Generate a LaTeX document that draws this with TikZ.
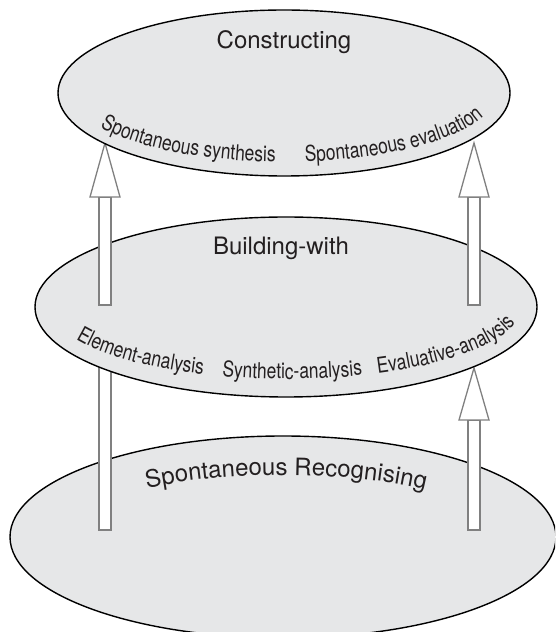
\documentclass[tikz,border=0pt]{standalone}
\usepackage{fontspec}
\setmainfont{TeX Gyre Heros}
\newfontfamily\lblfont[FakeStretch=0.8]{TeX Gyre Heros}
\usetikzlibrary{shapes.geometric,decorations.text,calc}
\definecolor{ellfill}{RGB}{230,231,232}
\definecolor{arrgray}{RGB}{128,128,128}
\definecolor{txt}{RGB}{35,31,32}
\newcommand\lblsize{\lblfont\fontsize{21.8}{26}\selectfont}
\newcommand\ttlsize{\fontsize{24}{28}\selectfont}
\newcommand\hollowarrow[3]{%
  \draw[hollow] ($(#1)+(-6,0)$) rectangle ($(#2)+(6,-#3)$);
  \draw[hollow] ($(#2)+(-15,-#3)$) -- (#2) -- ($(#2)+(15,-#3)$) -- cycle;}
\begin{document}
\begin{tikzpicture}[x=1pt,y=1pt,
  level/.style={ellipse, draw=black, line width=1.4pt, fill=ellfill, inner sep=0pt},
  hollow/.style={draw=arrgray, line width=1.3pt, fill=white},
  title/.style={font=\ttlsize, text=txt, anchor=base, inner sep=0pt},
  curvetext/.style={decorate, decoration={text along path, text={#1}, text color=txt}}]
\useasboundingbox (0,0) rectangle (555,632);
\clip (0,0) rectangle (555,632);
% bottom level
\node[level, minimum width=546pt, minimum height=202pt] (bot) at (283,95) {};
\path[curvetext={|\ttlsize|Spontaneous Recognising}]
  ({283+220*cos(128.2)},{95+62*sin(128.2)}) arc[start angle=128.2, end angle=10, x radius=220pt, y radius=62pt];
% lower arrows
\coordinate (llS) at (105,102);
\coordinate (llT) at (105,330);
\draw[hollow] ($(llS)+(-6,0)$) rectangle ($(llT)+(6,0)$);
\coordinate (lrS) at (474,102);
\coordinate (lrT) at (474,264);
\hollowarrow{lrS}{lrT}{52}
% middle level
\node[level, minimum width=502pt, minimum height=180pt] (mid) at (286,325) {};
\node[title] (bw) at (281,377) {Building-with};
\path[curvetext={|\lblsize|Element-analysis}]
  ({286+235*cos(206.6)},{325+72*sin(206.6)}) arc[start angle=206.6, end angle=300, x radius=235pt, y radius=72pt];
\path[curvetext={|\lblsize|Synthetic-analysis}]
  ({286+235*cos(254.2)},{325+72*sin(254.2)}) arc[start angle=254.2, end angle=340, x radius=235pt, y radius=72pt];
\path[curvetext={|\lblsize|Evaluative-analysis}]
  ({286+235*cos(293)},{325+72*sin(293)}) arc[start angle=293, end angle=375, x radius=235pt, y radius=72pt];
% upper arrows
\coordinate (ulS) at (105,327);
\coordinate (ulT) at (105,489);
\hollowarrow{ulS}{ulT}{54}
\coordinate (urS) at (474,327);
\coordinate (urT) at (474,489);
\hollowarrow{urS}{urT}{54}
% top level
\node[level, minimum width=452pt, minimum height=166pt] (top) at (284,539) {};
\node[title] (con) at (284,583) {Constructing};
\path[curvetext={|\lblsize|Spontaneous synthesis}]
  ({284+212*cos(209.8)},{539+69*sin(209.8)}) arc[start angle=209.8, end angle=300, x radius=212pt, y radius=69pt];
\path[curvetext={|\lblsize|Spontaneous evaluation}]
  ({284+212*cos(275.7)},{539+69*sin(275.7)}) arc[start angle=275.7, end angle=375, x radius=212pt, y radius=69pt];
\end{tikzpicture}
\end{document}
